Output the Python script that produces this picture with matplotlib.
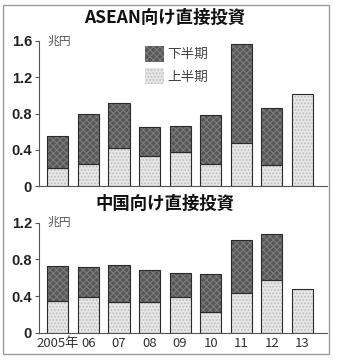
import matplotlib
matplotlib.use("Agg")
import matplotlib.pyplot as plt
from matplotlib.patches import Rectangle, Patch
import numpy as np

# Direct investment, trillion yen, split into first / second half of each year
years = ["2005年", "06", "07", "08", "09", "10", "11", "12", "13"]

asean_h1 = [0.20, 0.24, 0.42, 0.33, 0.38, 0.24, 0.47, 0.23, 1.01]
asean_h2 = [0.355, 0.56, 0.50, 0.325, 0.28, 0.54, 1.10, 0.63, 0.0]

china_h1 = [0.345, 0.385, 0.34, 0.335, 0.385, 0.23, 0.43, 0.575, 0.48]
china_h2 = [0.38, 0.335, 0.40, 0.345, 0.27, 0.405, 0.58, 0.505, 0.0]

labels_half = ["下半期", "上半期"]

JP = ["Noto Sans CJK JP", "DejaVu Sans"]
NUM = ["Liberation Sans", "DejaVu Sans"]
plt.rcParams["hatch.linewidth"] = 0.8

W, H = 337, 361
fig = plt.figure(figsize=(W / 100, H / 100), dpi=100)
fig.patch.set_facecolor("white")

# outer frame
fig.add_artist(Rectangle((3 / W, 1 - 354 / H), 326 / W, 349 / H,
                         transform=fig.transFigure, fill=False,
                         edgecolor="#9a9a9a", linewidth=1.0))

DARK_FACE, DARK_HATCH = "#575757", "#7c7c7c"
LIGHT_FACE, LIGHT_HATCH = "#e6e6e6", "#bdbdbd"
EDGE = "#2a2a2a"
DARK_PAT, LIGHT_PAT = "xxxxx", "....."

x = np.arange(len(years))
bw = 0.69


def stacked(ax, h1, h2):
    h1 = np.array(h1)
    h2 = np.array(h2)
    ax.bar(x, h1, bw, color=LIGHT_FACE, hatch=LIGHT_PAT, edgecolor=LIGHT_HATCH, linewidth=0)
    ax.bar(x, h2, bw, bottom=h1, color=DARK_FACE, hatch=DARK_PAT, edgecolor=DARK_HATCH, linewidth=0)
    ax.bar(x, h1, bw, fill=False, edgecolor=EDGE, linewidth=0.8)
    mask = h2 > 0
    ax.bar(x[mask], h2[mask], bw, bottom=h1[mask], fill=False, edgecolor=EDGE, linewidth=0.8)


def style(ax, ymax, ticks, title, title_y):
    ax.set_xlim(-0.62, 8.81)
    ax.set_ylim(0, ymax)
    for s in ("top", "right"):
        ax.spines[s].set_visible(False)
    ax.spines["left"].set_color("#555555")
    ax.spines["bottom"].set_color("#555555")
    ax.spines["left"].set_linewidth(0.8)
    ax.spines["bottom"].set_linewidth(0.8)
    ax.set_yticks(ticks)
    ax.set_yticklabels(["0" if t == 0 else f"{t:.1f}" for t in ticks],
                       fontfamily=NUM, fontweight="bold", fontsize=10.5, color="#222222")
    ax.tick_params(axis="y", length=3, width=0.8, pad=2, color="#555555")
    ax.text(0.028, 1.0, "兆円", transform=ax.transAxes, ha="left", va="center",
            fontfamily=JP, fontsize=8.5, color="#555555")
    fig.text(165 / W, 1 - title_y / H, title, ha="center", va="center",
             fontfamily=JP, fontweight="bold", fontsize=12.5, color="#111111")


# ASEAN panel
ax1 = fig.add_axes([39 / W, 1 - 186 / H, 288 / W, 145 / H])
stacked(ax1, asean_h1, asean_h2)
style(ax1, 1.6, [0, 0.4, 0.8, 1.2, 1.6], "ASEAN向け直接投資", 18)
ax1.set_xticks(x)
ax1.tick_params(axis="x", length=0, labelbottom=False)

handles = [
    Patch(facecolor=DARK_FACE, hatch=DARK_PAT, edgecolor=DARK_HATCH, linewidth=0),
    Patch(facecolor=LIGHT_FACE, hatch=LIGHT_PAT, edgecolor=LIGHT_HATCH, linewidth=0),
]
leg = ax1.legend(handles, labels_half, loc="upper left", bbox_to_anchor=(0.368, 0.966),
                 frameon=False, borderpad=0, borderaxespad=0, handlelength=1.4,
                 handleheight=1.4, handletextpad=0.25, labelspacing=0.5,
                 prop={"family": JP, "size": 9.8})
for t in leg.get_texts():
    t.set_color("#444444")

# China panel
ax2 = fig.add_axes([39 / W, 1 - 332.7 / H, 288 / W, 110 / H])
stacked(ax2, china_h1, china_h2)
style(ax2, 1.2, [0, 0.4, 0.8, 1.2], "中国向け直接投資", 204)
ax2.set_xticks(x)
ax2.set_xticklabels(years, fontfamily=["Liberation Sans Narrow", "Noto Sans CJK JP"],
                    fontsize=9.5, color="#333333")
ax2.tick_params(axis="x", length=0, pad=3)

fig.savefig("out.png", dpi=100, facecolor="white")
